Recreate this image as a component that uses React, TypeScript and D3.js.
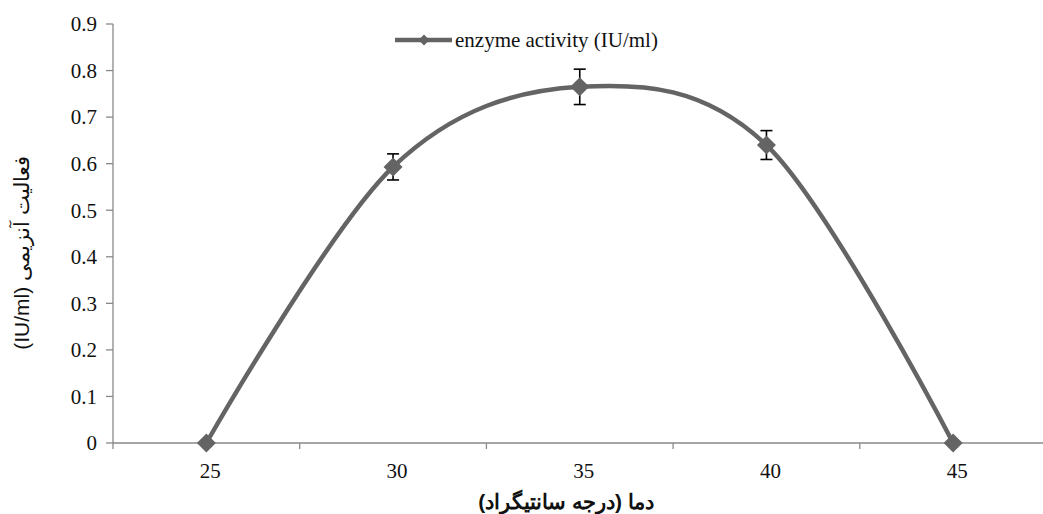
import { useRef, useEffect } from "react"
import * as d3 from "d3"

// temperature categories (°C)
const temps = [25, 30, 35, 40, 45]
// enzyme activity (IU/ml)
const activity = [0, 0.593, 0.765, 0.64, 0]
// error bar half-widths
const errors = [0, 0.028, 0.038, 0.031, 0]
const yTicks = [0, 0.1, 0.2, 0.3, 0.4, 0.5, 0.6, 0.7, 0.8, 0.9]

const seriesName = "enzyme activity (IU/ml)"
const xTitle = "دما (درجه سانتیگراد)"
const yTitle = "فعالیت آنزیمی (IU/ml)"

const W = 1043
const H = 514
const lineColor = "#646464"
const axisColor = "#898989"
const serif = "'Liberation Serif', 'Times New Roman', serif"
const sans = "'Liberation Sans', Arial, sans-serif"

const diamond = (cx: number, cy: number, r: number) =>
  `M${cx},${cy - r}L${cx + r},${cy}L${cx},${cy + r}L${cx - r},${cy}Z`

const App = () => {
  const svgRef = useRef<SVGSVGElement>(null)

  useEffect(() => {
    const svg = d3.select(svgRef.current)
    svg.selectAll("*").remove()

    const left = 113
    const top = 24
    const bottom = 443

    const x = d3
      .scaleBand<number>()
      .domain(temps)
      .range([left, left + 5 * 186.7])
    const cx = (t: number) => (x(t) as number) + x.bandwidth() / 2

    const y = d3.scaleLinear().domain([0, 0.9]).range([bottom, top])

    // y axis
    svg
      .append("line")
      .attr("x1", left)
      .attr("x2", left)
      .attr("y1", y(0.9))
      .attr("y2", y(0))
      .attr("stroke", axisColor)
      .attr("stroke-width", 1.3)

    yTicks.forEach((t) => {
      svg
        .append("line")
        .attr("x1", left - 7)
        .attr("x2", left)
        .attr("y1", y(t))
        .attr("y2", y(t))
        .attr("stroke", axisColor)
        .attr("stroke-width", 1.3)
      svg
        .append("text")
        .attr("x", 97)
        .attr("y", y(t))
        .attr("dy", "0.35em")
        .attr("text-anchor", "end")
        .style("font-family", serif)
        .style("font-size", "21px")
        .attr("fill", "#111")
        .text(t === 0 ? "0" : t.toFixed(1))
    })

    // x axis
    svg
      .append("line")
      .attr("x1", left)
      .attr("x2", W)
      .attr("y1", bottom)
      .attr("y2", bottom)
      .attr("stroke", axisColor)
      .attr("stroke-width", 1.3)

    temps.forEach((t) => {
      svg
        .append("line")
        .attr("x1", x(t) as number)
        .attr("x2", x(t) as number)
        .attr("y1", bottom)
        .attr("y2", bottom + 6)
        .attr("stroke", axisColor)
        .attr("stroke-width", 1.3)
      svg
        .append("text")
        .attr("x", cx(t) + 4)
        .attr("y", 478)
        .attr("text-anchor", "middle")
        .style("font-family", serif)
        .style("font-size", "21px")
        .attr("fill", "#111")
        .text(t)
    })

    // axis titles
    svg
      .append("text")
      .attr("x", 566)
      .attr("y", 509)
      .attr("text-anchor", "middle")
      .attr("direction", "rtl")
      .style("font-family", sans)
      .style("font-size", "21px")
      .style("font-weight", "bold")
      .attr("fill", "#111")
      .text(xTitle)

    svg
      .append("text")
      .attr("transform", `translate(29,253) rotate(-90)`)
      .attr("text-anchor", "middle")
      .attr("direction", "rtl")
      .style("font-family", sans)
      .style("font-size", "21px")
      .attr("fill", "#111")
      .text(yTitle)

    // smoothed line
    const pts: [number, number][] = temps.map((t, i) => [cx(t), y(activity[i])])
    svg
      .append("path")
      .attr("d", d3.line().curve(d3.curveCardinal.tension(0))(pts))
      .attr("fill", "none")
      .attr("stroke", lineColor)
      .attr("stroke-width", 4.5)

    // error bars
    temps.forEach((t, i) => {
      if (!errors[i]) return
      const hi = y(activity[i] + errors[i])
      const lo = y(activity[i] - errors[i])
      const g = svg.append("g").attr("stroke", "#000").attr("stroke-width", 1.6)
      g.append("line").attr("x1", cx(t)).attr("x2", cx(t)).attr("y1", hi).attr("y2", lo)
      g.append("line").attr("x1", cx(t) - 6).attr("x2", cx(t) + 6).attr("y1", hi).attr("y2", hi)
      g.append("line").attr("x1", cx(t) - 6).attr("x2", cx(t) + 6).attr("y1", lo).attr("y2", lo)
    })

    // markers
    temps.forEach((t, i) => {
      svg
        .append("path")
        .attr("d", diamond(cx(t), y(activity[i]), 9.5))
        .attr("fill", lineColor)
    })

    // legend
    svg
      .append("line")
      .attr("x1", 395)
      .attr("x2", 452)
      .attr("y1", 40)
      .attr("y2", 40)
      .attr("stroke", lineColor)
      .attr("stroke-width", 4.5)
    svg.append("path").attr("d", diamond(424, 40, 5.5)).attr("fill", lineColor)
    svg
      .append("text")
      .attr("x", 455)
      .attr("y", 40)
      .attr("dy", "0.32em")
      .style("font-family", serif)
      .style("font-size", "21px")
      .attr("fill", "#111")
      .text(seriesName)
  }, [])

  return (
    <div style={{ position: "absolute", left: 0, top: 0 }}>
      <svg ref={svgRef} width={W} height={H} style={{ display: "block", background: "#fff" }}></svg>
    </div>
  )
}

export default App
